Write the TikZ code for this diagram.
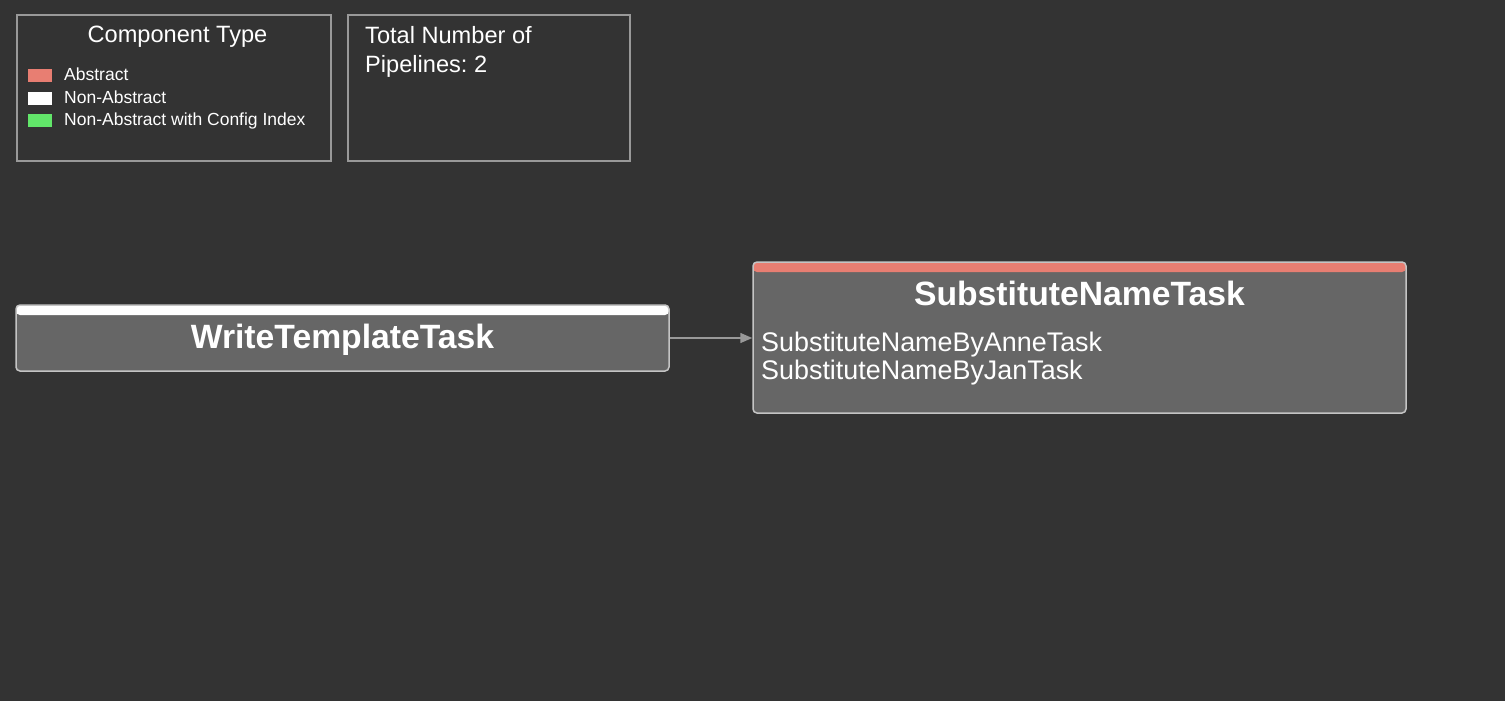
\documentclass[tikz,border=0pt]{standalone}
\usepackage{fontspec}
\setmainfont{Liberation Sans}
\frenchspacing
\definecolor{bgdark}{HTML}{333333}
\definecolor{taskgray}{HTML}{666666}
\definecolor{edgegray}{HTML}{999999}
\definecolor{rimgray}{HTML}{C4C4C4}
\definecolor{abstractred}{HTML}{E87E72}
\definecolor{configgreen}{HTML}{62E66A}
\usetikzlibrary{arrows.meta,positioning,calc}

\tikzset{
  legendbox/.style={draw=edgegray, line width=2pt},
  taskbox/.style={draw=rimgray, line width=1.5pt, fill=taskgray, rounded corners=4pt,
    inner sep=0pt, minimum width=653pt},
  band/.style={path picture={\fill[#1] (path picture bounding box.north west)
    rectangle ([yshift=-10pt]path picture bounding box.north east);}},
  tasktitle/.style={text=white, anchor=base, inner sep=0pt,
    font=\bfseries\fontsize{33.7}{40}\selectfont},
  tasksub/.style={text=white, anchor=base west, inner sep=0pt,
    font=\fontsize{26.9}{28}\selectfont},
  headtext/.style={text=white, inner sep=0pt, font=\fontsize{23.6}{29}\selectfont},
  keytext/.style={text=white, anchor=base west, inner sep=0pt,
    font=\fontsize{17.5}{22}\selectfont},
  swatch/.style={fill=#1, minimum width=24pt, minimum height=12.5pt, inner sep=0pt,
    anchor=north west},
  flow/.style={draw=edgegray, line width=1.5pt, -{Triangle[length=12pt,width=10pt]}}
}

\begin{document}
\begin{tikzpicture}[x=1pt, y=-1pt]
  \fill[bgdark] (0,0) rectangle (1505,701);
  \useasboundingbox (0,0) rectangle (1505,701);

  % legend
  \draw[legendbox] (17,15) rectangle (331,161);
  \node[headtext, anchor=base] (legendtitle) at (177.5,43) {Component Type};
  \node[swatch=abstractred] (keyabs) at (28,69) {};
  \node[swatch=white] (keynon) at (28,92) {};
  \node[swatch=configgreen] (keycfg) at (28,114) {};
  \node[keytext] (keyabstext) at (64,81) {Abstract};
  \node[keytext] (keynontext) at (64,103) {Non-Abstract};
  \node[keytext] (keycfgtext) at (64,125) {Non-Abstract with Config Index};

  % pipeline count
  \draw[legendbox] (348,15) rectangle (630,161);
  \node[headtext, anchor=base west] (pipetotal) at (365,44) {Total Number of};
  \node[headtext, anchor=base west] (pipecount) at (365,73) {Pipelines: 2};

  % tasks
  \node[taskbox, band=white, minimum height=66pt] (write) at (342.5,338) {};
  \node[tasktitle] (writetitle) at (342.5,348) {WriteTemplateTask};

  \node[taskbox, band=abstractred, minimum height=151pt] (subst) at (1079.5,337.5) {};
  \node[tasktitle] (substtitle) at (1079.5,305) {SubstituteNameTask};
  \node[tasksub] (anne) at (761,351) {SubstituteNameByAnneTask};
  \node[tasksub] (jan) at (761,379) {SubstituteNameByJanTask};

  \draw[flow] (write.east) -- (subst.west |- write.east);
\end{tikzpicture}
\end{document}
